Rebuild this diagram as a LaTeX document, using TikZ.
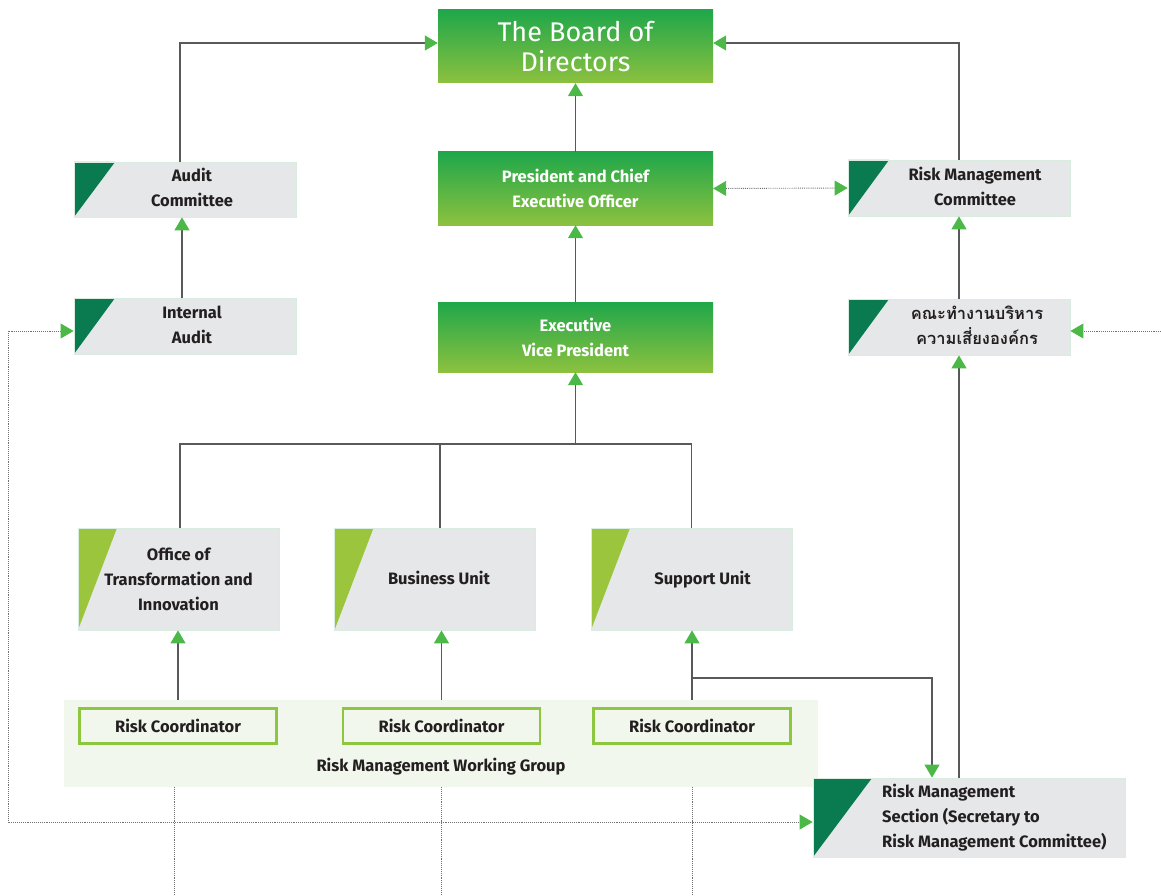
\documentclass[tikz,border=0pt]{standalone}
\usepackage{fontspec}
\setmainfont{Fira Sans}
\newfontfamily\thaifont[Script=Thai]{Loma}
\usetikzlibrary{arrows.meta,positioning,calc}
\definecolor{ink}{RGB}{35,31,32}
\definecolor{boardtop}{RGB}{31,167,74}
\definecolor{boardbot}{RGB}{140,193,63}
\definecolor{deep}{RGB}{10,122,80}
\definecolor{leaf}{RGB}{155,197,61}
\definecolor{paper}{RGB}{230,231,232}
\definecolor{glow}{RGB}{216,236,224}
\definecolor{wgfill}{RGB}{241,247,236}
\definecolor{rcline}{RGB}{141,198,63}
\definecolor{tip}{RGB}{76,184,72}
\definecolor{wire}{RGB}{88,89,91}
\tikzset{
  >={Triangle[length=13pt,width=15pt,color=tip]},
  boxfont/.style={font=\bfseries\fontsize{16.5}{25}\selectfont},
  exec/.style={top color=boardtop,bottom color=boardbot,minimum width=275pt,
    text=white,boxfont,align=center,inner sep=0pt},
  card/.style={fill=paper,draw=glow,line width=0.8pt,minimum width=222pt,
    minimum height=56pt,boxfont,text=ink,align=center,inner sep=0pt,
    path picture={\fill[deep] (path picture bounding box.north west) -- ++(#1,0)
      -- (path picture bounding box.south west) -- cycle;}},
  card/.default=41pt,
  unit/.style={fill=paper,draw=glow,line width=0.8pt,minimum width=201pt,
    minimum height=102pt,boxfont,text=ink,align=center,inner sep=0pt,
    path picture={\fill[leaf] (path picture bounding box.north west) -- ++(39pt,0)
      -- (path picture bounding box.south west) -- cycle;}},
  coord/.style={draw=rcline,line width=2.5pt,fill=wgfill,minimum width=197pt,
    minimum height=35pt,boxfont,text=ink,inner sep=0pt},
  link/.style={wire,line width=1.2pt},
  arr/.style={link,->},
  dotline/.style={wire!85,line width=0.9pt,densely dotted},
}
% text block pushed right of the wedge
\newcommand{\nudged}[2]{\hspace*{#1}\begin{tabular}{@{}c@{}}#2\end{tabular}}

\begin{document}
\begin{tikzpicture}[x=1pt,y=-1pt]
  \useasboundingbox (0,0) rectangle (1161,896);
  % top of the chart
  \node[exec,minimum height=73pt,font=\fontsize{27}{30}\selectfont] (board) at (575.5,46.5)
    {The Board of\\Directors};
  \node[exec,minimum height=73pt] (ceo) at (575.5,188.5) {President and Chief\\Executive Officer};
  \node[exec,minimum height=70pt] (evp) at (575.5,337) {Executive\\Vice President};
  \node[card,minimum height=55pt] (audit) at (185,189.5) {\nudged{14pt}{Audit\\Committee}};
  \node[card] (ia) at (185,326) {\nudged{14pt}{Internal\\Audit}};
  \node[card] (rmc) at (959,188) {\nudged{32pt}{Risk Management\\Committee}};
  \node[card,font=\thaifont\bfseries\fontsize{16.5}{25}\selectfont] (wt) at (959,327)
    {\nudged{36pt}{คณะทำงานบริหาร\\ความเสี่ยงองค์กร}};

  % units and working group
  \node[unit] (otx) at (178.5,579) {Office of\\Transformation and\\Innovation};
  \node[unit] (bu) at (435,579) {\nudged{8pt}{Business Unit}};
  \node[unit] (su) at (691.5,579) {\nudged{22pt}{Support Unit}};
  \node[fill=wgfill,minimum width=754pt,minimum height=87pt,inner sep=0pt] (wg) at (441,743.5) {};
  \node[coord] (rc1) at (178,726) {Risk Coordinator};
  \node[coord] (rc2) at (441.5,726) {Risk Coordinator};
  \node[coord] (rc3) at (692,726) {Risk Coordinator};
  \node[boxfont,text=ink] (wglabel) at (441,767) {Risk Management Working Group};
  \node[card=59pt,minimum width=312pt,minimum height=79pt] (rms) at (969,817.5) {};
  \node[boxfont,text=ink,align=left,anchor=west,inner sep=0pt] (rmstext) at (882,818)
    {Risk Management\\Section (Secretary to\\Risk Management Committee)};

  % reporting lines
  \draw[arr] (ceo.north) -- (board.south);
  \draw[arr] (evp.north) -- (ceo.south);
  \draw[arr] ([xshift=-5pt]audit.north) |- ([yshift=3.5pt]board.west);
  \draw[arr] (rmc.north) |- ([yshift=3.5pt]board.east);
  \draw[arr] ([xshift=-3pt]ia.north) -- ([xshift=-3pt]audit.south);
  \draw[arr] (wt.north) -- (rmc.south);
  \draw[dotline,<->] (ceo.east) -- (rmc.west);
  \coordinate (edge) at (1161,331);
  \draw[dotline,->] (edge) -- (wt.east |- edge);

  \coordinate (bus) at (575.5,444);
  \draw[link] ([xshift=1.5pt]otx.north) |- (bus) -| (su.north);
  \draw[link] ([xshift=5pt]bu.north) -- ([xshift=5pt]bu.north |- bus);
  \draw[arr] (bus) -- (evp.south);

  \foreach \n in {rc1,rc2,rc3}
    \draw[arr] (\n.north |- wg.north) -- (\n.north |- otx.south);
  \coordinate (split) at (692,678);
  \draw[arr] (split) -| ([xshift=-37pt]rms.north);
  \draw[arr] (rms.north -| wt.south) -- (wt.south);

  % dotted links at the bottom
  \coordinate (loop) at (8,822);
  \coordinate (floor) at (0,896);
  \draw[dotline,<->] ([yshift=-5pt]ia.west) -| (loop) -- (rms.west |- loop);
  \draw[dotline] ([xshift=-4pt]rc1.south |- wg.south) -- ([xshift=-4pt]rc1.south |- floor);
  \foreach \n in {rc2,rc3}
    \draw[dotline] (\n.south |- wg.south) -- (\n.south |- floor);
\end{tikzpicture}
\end{document}
